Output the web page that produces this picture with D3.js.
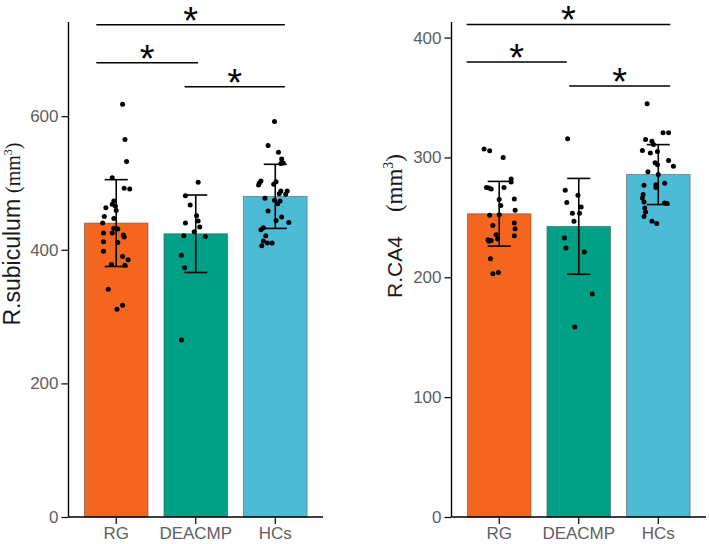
<!DOCTYPE html>
<html>
<head>
<meta charset="utf-8">
<script src="https://cdn.jsdelivr.net/npm/d3@7"></script>
<style>
  body { margin: 0; background: #fff; }
  svg { display: block; }
</style>
</head>
<body>
<div id="chart"></div>
<script>
// groups and colours
const groups = ["RG", "DEACMP", "HCs"];
const colors = ["#F4661F", "#00A087", "#4DBBD5"];

// R.subiculum: bar means and sd
const subMean = [440, 424, 480];
const subSd = [65, 58, 48];
const subTicks = [0, 200, 400, 600];
// individual points (value, horizontal jitter in category units)
const subRG = [618, 565, 532, 508, 492, 491, 473, 468, 465, 463, 459, 450, 447, 440, 432, 431, 425, 425, 422, 419, 412, 411, 398, 390, 385, 378, 377, 341, 311, 317];
const subRGj = [0.08, 0.11, 0.13, -0.05, 0.10, 0.17, -0.03, -0.05, -0.01, -0.13, 0.00, -0.15, -0.03, -0.17, -0.03, 0.02, -0.05, -0.16, 0.09, 0.10, -0.16, 0.02, -0.16, 0.08, 0.15, -0.06, 0.11, -0.10, 0.01, 0.08];
const subDE = [501, 481, 467, 451, 443, 440, 434, 427, 421, 420, 392, 373, 265];
const subDEj = [0.03, -0.13, -0.07, 0.01, 0.03, -0.13, 0.05, -0.02, -0.15, 0.12, -0.18, -0.14, -0.18];
const subHC = [592, 556, 546, 536, 530, 529, 503, 500, 497, 502, 498, 488, 488, 484, 483, 477, 474, 473, 469, 458, 449, 444, 441, 433, 430, 421, 413, 410, 406, 410];
const subHCj = [-0.01, -0.09, 0.04, 0.08, 0.10, 0.07, -0.18, -0.20, -0.21, 0.01, -0.02, 0.07, 0.15, 0.05, 0.13, -0.13, -0.01, 0.06, 0.03, -0.09, 0.08, 0.01, 0.17, -0.15, -0.18, -0.12, -0.15, -0.10, -0.17, -0.04];
// significance brackets: [from, to, height]
const subBrackets = [[0.75, 3.12, 737], [0.75, 2.03, 680], [1.86, 3.12, 644]];

// R.CA4
const caMean = [253, 242.5, 285.7];
const caSd = [27, 40, 25];
const caTicks = [0, 100, 200, 300, 400];
const caRG = [307, 305.5, 300, 282, 279.6, 275, 274.6, 273.7, 275, 265, 265.4, 260, 256, 251.7, 252.2, 245.3, 243.3, 240.5, 234.7, 235.5, 231.4, 230.8, 230, 232, 215.5, 203, 204];
const caRGj = [-0.19, -0.12, 0.05, 0.15, 0.15, -0.16, -0.13, -0.10, 0.06, 0.00, 0.19, 0.02, 0.20, -0.12, 0.00, 0.19, -0.08, 0.20, 0.19, -0.04, -0.14, -0.10, -0.13, -0.02, -0.11, -0.08, -0.01];
const caDE = [315.5, 272.6, 268.4, 262.3, 258.7, 253.4, 253.4, 246.7, 232.8, 224.4, 221, 186, 158.6];
const caDEj = [-0.14, -0.17, -0.01, -0.15, 0.03, -0.08, 0.01, -0.06, -0.18, -0.16, 0.07, 0.17, -0.05];
const caHC = [344.8, 320.6, 320.6, 315, 313.6, 310.8, 305.8, 303.8, 305, 297.4, 292.6, 295.5, 294, 288, 285.7, 276.8, 277.3, 278.4, 275, 269, 266.2, 262.9, 262, 261.5, 257.9, 254.5, 250.8, 246.7, 244.8];
const caHCj = [-0.14, 0.06, 0.13, -0.16, -0.08, -0.06, -0.20, -0.10, -0.01, 0.13, 0.19, -0.04, -0.01, -0.13, 0.00, -0.18, -0.03, 0.08, -0.03, -0.19, -0.20, -0.18, 0.08, 0.11, -0.17, -0.16, -0.18, -0.08, -0.02];
const caBrackets = [[0.59, 3.15, 411], [0.59, 1.85, 379.6], [1.88, 3.15, 359.5]];

const width = 709, height = 544;

const svg = d3.select("#chart").append("svg")
    .attr("width", width)
    .attr("height", height);

function drawPanel(p) {
    const g = svg.append("g");

    const x = d3.scaleBand()
        .domain(groups)
        .range([p.left, p.right])
        .paddingInner(0.2)
        .paddingOuter(0.2);
    const step = x.step();
    // continuous position for jitter and brackets (1 = first group)
    const pos = u => x(groups[0]) + x.bandwidth() / 2 + (u - 1) * step;

    const y = d3.scaleLinear().domain([0, p.ymax]).range([p.bottom, p.top]);

    // bars
    g.selectAll(".bar")
        .data(groups)
        .join("rect")
        .attr("x", d => x(d))
        .attr("width", x.bandwidth())
        .attr("y", (d, i) => y(p.mean[i]))
        .attr("height", (d, i) => y(0) - y(p.mean[i]))
        .attr("fill", (d, i) => colors[i])
        .attr("stroke", "#555")
        .attr("stroke-opacity", 0.7)
        .attr("stroke-width", 0.8);

    // points
    p.points.forEach((vals, i) => {
        g.selectAll(null)
            .data(vals)
            .join("circle")
            .attr("cx", (d, k) => pos(i + 1 + p.jitter[i][k]))
            .attr("cy", d => y(d))
            .attr("r", 2.5)
            .attr("fill", "#000");
    });

    // error bars
    const cap = step * 0.145;
    groups.forEach((gr, i) => {
        const cx = pos(i + 1);
        const lo = y(p.mean[i] - p.sd[i]), hi = y(p.mean[i] + p.sd[i]);
        const eb = g.append("g").attr("stroke", "#000").attr("stroke-width", 1.6);
        eb.append("line").attr("x1", cx).attr("x2", cx).attr("y1", lo).attr("y2", hi);
        eb.append("line").attr("x1", cx - cap).attr("x2", cx + cap).attr("y1", lo).attr("y2", lo);
        eb.append("line").attr("x1", cx - cap).attr("x2", cx + cap).attr("y1", hi).attr("y2", hi);
    });

    // axes
    const yAxis = g.append("g")
        .attr("transform", `translate(${p.left},0)`)
        .call(d3.axisLeft(y).tickValues(p.ticks).tickSize(7).tickPadding(3));
    yAxis.select(".domain").attr("d", `M0,${p.top}V${p.bottom}`).attr("stroke-width", 1.4);
    yAxis.selectAll(".tick line").attr("stroke-width", 1.2);
    yAxis.selectAll("text").attr("fill", "#606060")
        .style("font-family", "Liberation Sans, Arial").style("font-size", "17px");

    const xAxis = g.append("g")
        .attr("transform", `translate(0,${p.bottom})`)
        .call(d3.axisBottom(x).tickSize(7).tickPadding(3));
    xAxis.select(".domain").attr("d", `M${p.left},0H${p.right}`).attr("stroke-width", 1.4);
    xAxis.selectAll(".tick line").attr("stroke-width", 1.2);
    xAxis.selectAll("text").attr("fill", "#606060")
        .style("font-family", "Liberation Sans, Arial").style("font-size", "17px");

    // y label
    const lab = g.append("text")
        .attr("transform", `translate(${p.labX},${p.labY}) rotate(-90)`)
        .attr("text-anchor", "middle")
        .attr("fill", "#1a1a1a");
    lab.append("tspan")
        .style("font-family", "Liberation Sans, Arial")
        .style("font-size", p.labSize + "px")
        .text(p.label);
    lab.append("tspan")
        .style("font-family", "Liberation Serif, Times New Roman, serif")
        .style("font-size", p.unitSize + "px")
        .attr("dx", p.unitGap)
        .text("(mm");
    lab.append("tspan")
        .style("font-family", "Liberation Serif, Times New Roman, serif")
        .style("font-size", (p.unitSize * 0.6) + "px")
        .attr("dy", -p.unitSize * 0.4)
        .text("3");
    lab.append("tspan")
        .style("font-family", "Liberation Serif, Times New Roman, serif")
        .style("font-size", p.unitSize + "px")
        .attr("dy", p.unitSize * 0.4)
        .text(")");

    // significance brackets
    p.brackets.forEach(b => {
        const by = y(b[2]);
        g.append("line")
            .attr("x1", pos(b[0])).attr("x2", pos(b[1]))
            .attr("y1", by).attr("y2", by)
            .attr("stroke", "#000").attr("stroke-width", 1.5);
        g.append("text")
            .attr("x", (pos(b[0]) + pos(b[1])) / 2)
            .attr("y", by + 9)
            .attr("text-anchor", "middle")
            .style("font-family", "Liberation Sans, Arial")
            .style("font-size", "38px")
            .attr("fill", "#000")
            .text("*");
    });
}

drawPanel({
    left: 68.5, right: 323, top: 22, bottom: 517, ymax: 741,
    mean: subMean, sd: subSd, ticks: subTicks,
    points: [subRG, subDE, subHC], jitter: [subRGj, subDEj, subHCj],
    brackets: subBrackets,
    label: "R.subiculum", labSize: 23, unitSize: 20, unitGap: 6, labX: 20, labY: 234
});

drawPanel({
    left: 451.5, right: 706, top: 22, bottom: 517, ymax: 413,
    mean: caMean, sd: caSd, ticks: caTicks,
    points: [caRG, caDE, caHC], jitter: [caRGj, caDEj, caHCj],
    brackets: caBrackets,
    label: "R.CA4", labSize: 21, unitSize: 23, unitGap: 24, labX: 402, labY: 226
});
</script>
</body>
</html>
